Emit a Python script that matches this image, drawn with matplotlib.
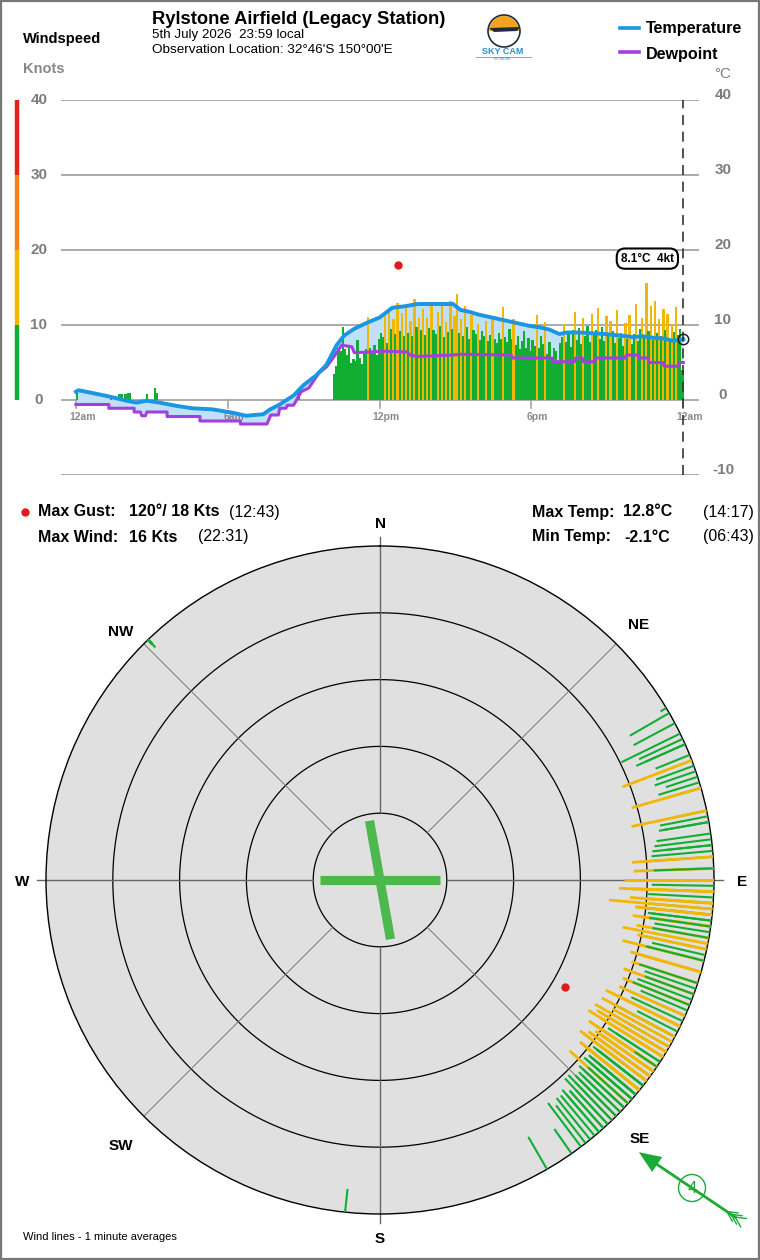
import numpy as np
import matplotlib.pyplot as plt
from matplotlib.patches import Circle, Rectangle, Wedge, Polygon

plt.rcParams['font.family'] = ['Liberation Sans', 'DejaVu Sans']

wind_kts = [
    [0.9, 0, 0, 0, 0, 0, 0, 0, 0, 0, 0, 0],
    [0, 0, 0, 0, 0.5, 0, 0, 0, 0.8, 0.8, 0, 0.8],
    [1.0, 1.0, 0, 0, 0, 0, 0, 0, 0, 0.8, 0, 0],
    [0, 1.6, 1.0, 0, 0, 0, 0, 0, 0, 0, 0, 0],
    [0, 0, 0, 0, 0, 0, 0, 0, 0, 0, 0, 0],
    [0, 0, 0, 0, 0, 0, 0, 0, 0, 0, 0, 0],
    [0, 0, 0, 0, 0, 0, 0, 0, 0, 0, 0, 0],
    [0, 0, 0, 0, 0, 0, 0, 0, 0, 0, 0, 0],
    [0, 0, 0, 0, 0, 0, 0, 0, 0, 1.0, 0, 0],
    [0, 0, 0, 0, 0, 0, 0, 0, 0, 0, 0, 0],
    [0, 0, 3.5, 4.5, 7.0, 6.5, 9.8, 6.8, 6.0, 7.2, 5.0, 5.5],
    [5.2, 8.0, 5.6, 4.8, 6.5, 6.8, 11.1, 7.0, 6.4, 7.3, 6.0, 8.2],
    [9.0, 8.4, 11.5, 7.6, 12.0, 9.5, 10.8, 8.8, 13.0, 9.2, 11.6, 8.5],
    [12.4, 9.0, 10.5, 8.6, 13.5, 9.8, 11.0, 9.3, 12.2, 8.7, 10.9, 9.6],
    [13.0, 9.4, 8.8, 11.8, 9.9, 12.6, 8.4, 10.4, 9.1, 13.2, 9.5, 11.2],
    [14.2, 9.0, 10.8, 8.6, 12.5, 9.7, 8.2, 11.4, 9.3, 8.8, 10.1, 8.0],
    [9.2, 8.5, 10.6, 7.9, 8.7, 11.0, 8.2, 7.6, 9.0, 8.1, 12.4, 8.4],
    [7.8, 9.5, 8.2, 10.8, 7.4, 8.6, 6.8, 7.9, 9.2, 7.0, 8.3, 6.6],
    [8.0, 7.2, 11.3, 6.9, 8.5, 7.5, 10.4, 6.2, 7.8, 5.8, 7.0, 6.5],
    [5.0, 7.6, 8.4, 10.2, 7.7, 8.9, 7.1, 9.3, 11.8, 8.0, 9.6, 7.5],
    [10.9, 8.6, 9.9, 7.8, 11.5, 8.8, 9.4, 12.3, 8.2, 9.7, 7.9, 11.2],
    [8.5, 10.6, 9.2, 7.6, 12.0, 8.3, 9.0, 7.2, 10.3, 8.1, 11.4, 7.5],
    [8.8, 12.8, 7.9, 9.5, 11.0, 8.4, 15.6, 9.2, 12.5, 8.0, 13.2, 9.0],
    [10.8, 8.6, 12.1, 9.4, 11.5, 8.2, 10.2, 9.1, 12.4, 8.7, 9.5, 4.0],
]
wind_dir = [
    [316, 0, 0, 0, 0, 0, 0, 0, 0, 0, 0, 0],
    [0, 0, 0, 0, 316, 0, 0, 0, 316, 316, 0, 316],
    [316, 316, 0, 0, 0, 0, 0, 0, 0, 316, 0, 0],
    [0, 316, 316, 0, 0, 0, 0, 0, 0, 0, 0, 0],
    [0, 0, 0, 0, 0, 0, 0, 0, 0, 0, 0, 0],
    [0, 0, 0, 0, 0, 0, 0, 0, 0, 0, 0, 0],
    [0, 0, 0, 0, 0, 0, 0, 0, 0, 0, 0, 0],
    [0, 0, 0, 0, 0, 0, 0, 0, 0, 0, 0, 0],
    [0, 0, 0, 0, 0, 0, 0, 0, 0, 59, 0, 0],
    [0, 0, 0, 0, 0, 0, 0, 0, 0, 0, 0, 0],
    [0, 0, 186, 145, 62, 66, 64, 60, 70, 65, 72, 68],
    [74, 66, 150, 78, 71, 80, 69, 84, 73, 79, 88, 82],
    [84, 92, 78, 80, 88, 86, 74, 98, 90, 85, 96, 94],
    [92, 88, 98, 83, 90, 93, 100, 91, 86, 104, 94, 97],
    [101, 95, 104, 98, 96, 104, 99, 108, 97, 90, 102, 110],
    [92, 104, 112, 100, 94, 118, 103, 96, 98, 114, 106, 121],
    [108, 115, 102, 120, 111, 106, 124, 113, 118, 109, 116, 122],
    [110, 118, 125, 114, 121, 128, 117, 123, 112, 126, 119, 130],
    [120, 127, 116, 131, 124, 118, 129, 122, 134, 126, 121, 132],
    [128, 135, 124, 119, 130, 126, 137, 123, 132, 127, 125, 138],
    [122, 130, 126, 133, 121, 128, 136, 124, 131, 127, 140, 129],
    [133, 125, 130, 138, 127, 135, 129, 142, 124, 132, 126, 139],
    [128, 120, 136, 131, 124, 139, 95, 133, 127, 141, 122, 130],
    [126, 134, 121, 137, 129, 143, 125, 131, 118, 135, 128, 124],
]

temp_hours = [0.0, 0.1, 0.7, 1.34, 2.0, 2.4, 2.8, 3.3, 4.0, 4.6, 5.4, 6.2, 6.72,
              7.4, 7.65, 8.05, 8.6, 9.0, 9.5, 9.9, 10.3, 10.6, 11.0, 11.5, 12.0,
              12.5, 13.0, 13.5, 14.28, 14.9, 15.2, 15.5, 15.9, 16.3, 16.7, 17.1,
              17.5, 17.9, 18.3, 18.7, 19.1, 19.4, 19.9, 20.4, 20.9, 21.5, 22.0,
              22.4, 22.8, 23.2, 23.6, 24.0]
temp_c = [1.1, 1.3, 0.9, 0.45, -0.1, -0.35, -0.1, -0.35, -0.8, -1.1, -1.25, -1.7, -2.1,
          -1.9, -1.3, -0.6, 0.6, 2.0, 3.3, 4.7, 7.3, 8.6, 9.5, 10.3, 11.0,
          12.3, 12.5, 12.8, 12.8, 12.8, 12.0, 11.8, 11.4, 11.1, 10.8, 10.5,
          10.2, 9.9, 9.7, 9.4, 8.8, 9.0, 9.0, 8.9, 8.8, 8.6, 8.4,
          8.5, 8.3, 8.2, 7.9, 8.1]

dew_hours = [0, 1.3, 1.3, 2.3, 2.3, 2.55, 2.6, 2.75, 2.8, 3.6, 3.6, 4.9, 4.9, 6.5, 6.5,
             7.55, 7.7, 8.0, 8.05, 8.3, 8.35, 8.6, 8.9, 9.2, 9.6, 9.9, 10.2, 10.5,
             10.9, 11.0, 12.2, 13.1, 13.2, 13.5, 14.9, 15.2, 17.2, 17.25, 18.8,
             18.85, 19.7, 19.75, 20.0, 20.05, 20.5, 20.55, 21.7, 21.75, 22.2,
             22.25, 22.6, 22.65, 23.2, 23.25, 23.8, 23.85, 24.0]
dew_c = [-0.6, -0.6, -1.1, -1.1, -1.6, -1.6, -2.1, -2.1, -1.6, -1.6, -2.2, -2.2, -2.8,
         -2.8, -3.2, -3.2, -2.0, -2.0, -1.1, -1.1, -0.7, -0.7, 1.1, 1.6, 3.6, 4.4,
         5.8, 7.3, 7.1, 6.3, 6.5, 6.4, 6.0, 5.8, 6.0, 6.1, 6.0, 5.6, 5.6, 5.1,
         5.1, 5.6, 5.6, 5.1, 5.1, 5.6, 5.6, 6.0, 6.0, 5.6, 5.6, 5.0, 5.0, 4.5,
         4.5, 5.0, 5.0]

gust_dir, gust_kts, gust_hour, gust_time = 120, 18, 12.72, "12:43"
max_wind_kts, max_wind_time = 16, "22:31"
max_temp, max_temp_time = 12.8, "14:17"
min_temp, min_temp_time = -2.1, "06:43"
runways = [90, 170]

speed = np.array(wind_kts, dtype=float).ravel()
direc = np.array(wind_dir, dtype=float).ravel()
t_hours = np.arange(len(speed)) * 5 / 60

GREEN, YELLOW, ORANGE, RED = '#12ae34', '#f2b705', '#f5821f', '#e2231a'
GREY = '#7d7d7d'


def speed_colour(s):
    if s < 10:
        return GREEN
    if s < 20:
        return YELLOW
    if s < 30:
        return ORANGE
    return RED


fig = plt.figure(figsize=(7.6, 12.6), dpi=100)

# ---- top time series ----
ax = fig.add_axes([61 / 760, 1 - 475 / 1260, 638 / 760, 375 / 1260])
ax.set_xlim(-0.59, 24.62)
ax.set_ylim(-10, 40)
ax.axis('off')
for v in range(-10, 41, 10):
    ax.axhline(v, color='#a5a5a5', lw=1.3, zorder=0)
for h, lab in zip([0, 6, 12, 18, 24], ['12am', '6am', '12pm', '6pm', '12am']):
    ax.plot([h, h], [0, -1.1], color='#a5a5a5', lw=1.2, clip_on=False)
    ax.text(h + 0.25, -2.2, lab, ha='center', va='center', fontsize=7.5,
            fontweight='bold', color='#8a8a8a', zorder=1.5)

ax.fill(np.r_[temp_hours, dew_hours[::-1]], np.r_[temp_c, dew_c[::-1]],
        color='#c0e1f5', lw=0, zorder=1)
ax.bar(t_hours, speed, width=5.6 / 60, align='edge', lw=0,
       color=[speed_colour(s) for s in speed], zorder=2)
ax.plot(dew_hours, dew_c, color='#a53ee0', lw=2.2, zorder=3)
ax.plot(temp_hours, temp_c, color='#1a96e2', lw=2.8, zorder=4)
ax.plot([24, 24], [-10, 40], color='#333333', lw=1.2, ls=(0, (6, 4)), zorder=5)
ax.plot(24, temp_c[-1], 'o', mfc='none', mec='#222222', ms=7.5, mew=1.1, zorder=6)
ax.plot(gust_hour, gust_kts, 'o', color='#e01b1b', ms=5, zorder=6)
ax.text(22.58, 18.85, f"{temp_c[-1]:.1f}°C  {speed[-1]:.0f}kt", ha='center',
        va='center', fontsize=8.5, fontweight='bold', zorder=7,
        bbox=dict(boxstyle='round,pad=0.35,rounding_size=0.7', fc='white',
                  ec='black', lw=1.5))

ytr = ax.get_yaxis_transform()
for lo, hi, c in [(0, 10, GREEN), (10, 20, YELLOW), (20, 30, ORANGE), (30, 40, RED)]:
    ax.plot([-0.069, -0.069], [lo, hi], color=c, lw=3.2, transform=ytr,
            clip_on=False, solid_capstyle='butt')
for v in range(0, 41, 10):
    ax.text(-0.0345, v, str(v), transform=ytr, ha='center', va='center',
            fontsize=11, fontweight='bold', color=GREY)
for v in range(-10, 41, 10):
    ax.text(1.0376, v + 0.67, str(v), transform=ytr, ha='center', va='center',
            fontsize=11, fontweight='bold', color=GREY)

# ---- wind rose ----
R = 50
pa = fig.add_axes([46 / 760, 1 - 1214 / 1260, 668 / 760, 668 / 1260],
                  projection='polar')
pa.set_theta_zero_location('N')
pa.set_theta_direction(-1)
pa.set_ylim(0, R)
pa.set_facecolor('#e0e0e0')
pa.set_xticks([])
pa.set_yticks([])
pa.grid(False)
pa.spines['polar'].set_color('black')
pa.spines['polar'].set_linewidth(1.0)

ring = np.linspace(0, 2 * np.pi, 361)
for r in [10, 20, 30, 40]:
    pa.plot(ring, np.full_like(ring, r), color='black', lw=0.9, zorder=1)
for a in range(0, 360, 90):
    pa.plot([np.radians(a)] * 2, [10, 51.4], color='#666666', lw=1.0,
            clip_on=False, zorder=1)
for a in range(45, 360, 90):
    pa.plot([np.radians(a)] * 2, [10, R], color='#777777', lw=0.7, zorder=1)

for rw in runways:
    th = np.radians(rw)
    pa.plot([th, th, th + np.pi], [9, 0, 9], color='#4db84e', lw=6.6,
            solid_capstyle='butt', zorder=2)

for s, d in zip(speed, direc):
    if s <= 0:
        continue
    th = np.radians(d)
    c = speed_colour(s)
    pa.plot([th, th], [R, R - s], color=c, lw=2.0 if c != GREEN else 1.5,
            solid_capstyle='butt', zorder=3)
pa.plot(np.radians(gust_dir), R - gust_kts, 'o', color='#e01b1b', ms=5, zorder=4)

# ---- overlay in pixel coordinates ----
ov = fig.add_axes([0, 0, 1, 1])
ov.set_xlim(0, 760)
ov.set_ylim(1260, 0)
ov.axis('off')
ov.patch.set_alpha(0)
ov.add_patch(Rectangle((1, 1), 758, 1258, fill=False, ec='#777777', lw=1.6))

ov.text(152, 19, "Rylstone Airfield (Legacy Station)", fontsize=13.2,
        fontweight='bold', va='center')
ov.text(152, 35, "5th July 2026  23:59 local", fontsize=9.6, va='center')
ov.text(152, 50, "Observation Location: 32°46'S 150°00'E", fontsize=9.7, va='center')
ov.text(23, 39, "Windspeed", fontsize=10.5, fontweight='bold', va='center')
ov.text(23, 69, "Knots", fontsize=10.5, fontweight='bold', va='center', color='#888888')
ov.text(723, 74, "°C", fontsize=11, va='center', ha='center', color=GREY)

ov.plot([620, 639], [28, 28], color='#1a96e2', lw=2.6)
ov.text(646, 29, "Temperature", fontsize=11.6, fontweight='bold', va='center')
ov.plot([620, 639], [52, 52], color='#a53ee0', lw=2.6)
ov.text(646, 54, "Dewpoint", fontsize=11.6, fontweight='bold', va='center')

# logo
ov.add_patch(Wedge((504, 31), 15, 180, 360, fc='#f5a21f', ec='none'))
ov.add_patch(Circle((504, 31), 16, fill=False, ec='#1d2b3a', lw=1.2))
ov.add_patch(Polygon([[489, 28], [520, 27], [517, 31], [494, 32]], fc='#1d2b3a'))
ov.text(503, 52, "SKY CAM", fontsize=6.5, color='#2a8fd0', ha='center', va='center',
        fontweight='bold')
ov.plot([476, 531], [56.5, 56.5], color='#2a8fd0', lw=0.5)
ov.text(503, 58.5, "NETWORK", fontsize=2.5, color='#2a8fd0', ha='center', va='center')

# stats
ov.plot(25, 512, 'o', color='#e01b1b', ms=5)
ov.text(38, 512, "Max Gust:", fontsize=11.5, fontweight='bold', va='center')
ov.text(129, 512, f"{gust_dir}°/ {gust_kts} Kts", fontsize=11.5, fontweight='bold', va='center')
ov.text(229, 512, f"({gust_time})", fontsize=11.5, va='center')
ov.text(38, 537, "Max Wind:", fontsize=11.5, fontweight='bold', va='center')
ov.text(129, 537, f"{max_wind_kts} Kts", fontsize=11.5, fontweight='bold', va='center')
ov.text(198, 537, f"({max_wind_time})", fontsize=11.5, va='center')
ov.text(532, 512, "Max Temp:", fontsize=11.5, fontweight='bold', va='center')
ov.text(623, 512, f"{max_temp}°C", fontsize=11.5, fontweight='bold', va='center')
ov.text(703, 512, f"({max_temp_time})", fontsize=11.5, va='center')
ov.text(532, 537, "Min Temp:", fontsize=11.5, fontweight='bold', va='center')
ov.text(624, 537, f"{min_temp}°C", fontsize=11.5, fontweight='bold', va='center')
ov.text(703, 537, f"({min_temp_time})", fontsize=11.5, va='center')

for lab, x, y in [("N", 380, 524), ("S", 380, 1239), ("E", 742, 882), ("W", 22, 882),
                  ("NE", 639, 625), ("NW", 121, 632), ("SE", 640, 1139), ("SW", 121, 1146)]:
    ov.text(x, y, lab, fontsize=11, fontweight='bold', ha='center', va='center')

ov.text(23, 1237, "Wind lines - 1 minute averages", fontsize=8, va='center')

# current wind arrow
cx, cy = 692, 1188
to = np.radians(direc[-1] + 180)
ux, uy = np.sin(to), -np.cos(to)
px, py = -uy, ux
head = (cx + 64 * ux, cy + 64 * uy)
tail = (cx - 52 * ux, cy - 52 * uy)
ov.plot([tail[0], cx + 44 * ux], [tail[1], cy + 44 * uy], color='#1aaa35', lw=2)
ov.add_patch(Polygon([head, (cx + 42 * ux + 9 * px, cy + 42 * uy + 9 * py),
                      (cx + 42 * ux - 9 * px, cy + 42 * uy - 9 * py)], fc='#1aaa35'))
for k in range(3):
    bx, by = tail[0] + k * 5 * ux, tail[1] + k * 5 * uy
    for sgn in (1, -1):
        ov.plot([bx, bx - 10 * ux + sgn * 5 * px], [by, by - 10 * uy + sgn * 5 * py],
                color='#1aaa35', lw=1)
ov.add_patch(Circle((cx, cy), 13.5, fc='white', ec='#1aaa35', lw=1))
ov.text(cx, cy + 0.5, f"{speed[-1]:.0f}", fontsize=12, color='#1aaa35',
        ha='center', va='center')

fig.savefig('out.png', dpi=100)
